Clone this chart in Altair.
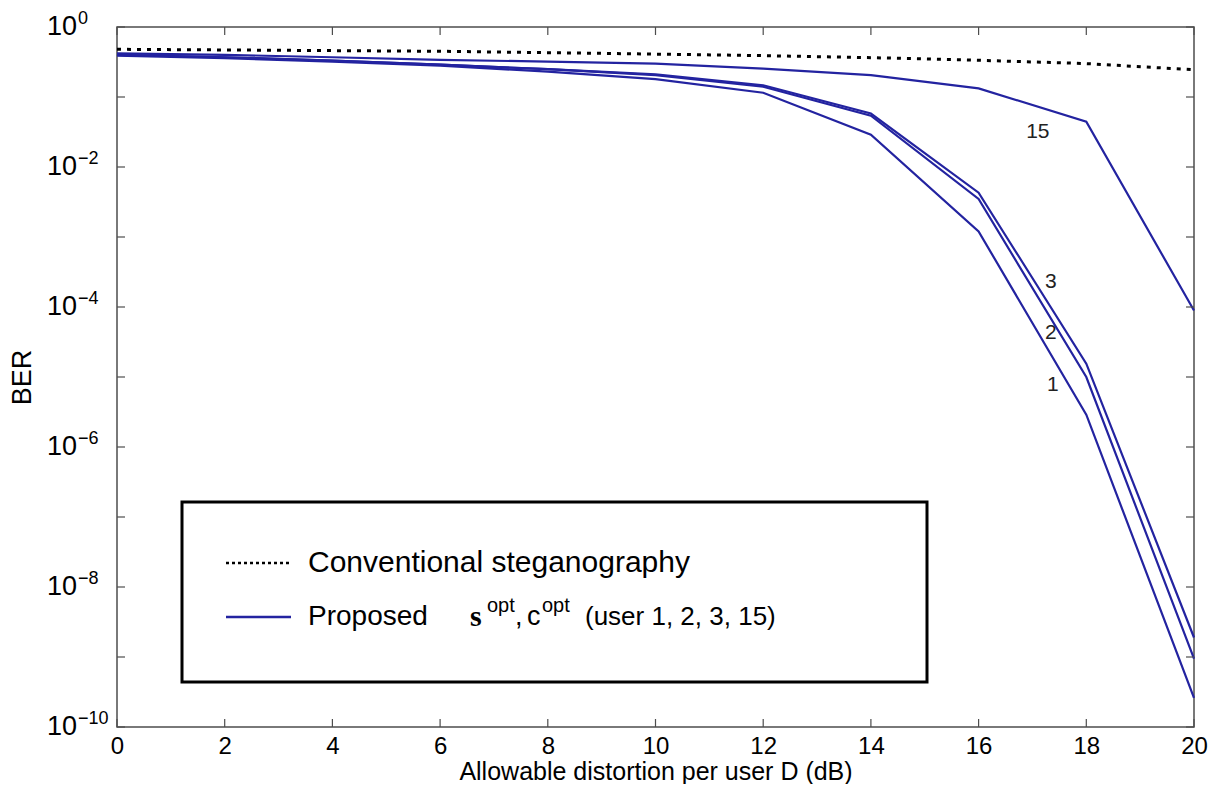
import altair as alt
import pandas as pd

# ---------------- data ----------------
D = [0, 2, 4, 6, 8, 10, 12, 14, 16, 18, 20]
conventional = [0.48, 0.47, 0.46, 0.45, 0.43, 0.41, 0.39, 0.365, 0.335, 0.30, 0.245]
user15 = [0.42, 0.40, 0.37, 0.34, 0.32, 0.30, 0.255, 0.205, 0.133, 0.0444, 8.9e-5]
user3 = [0.40, 0.37, 0.33, 0.29, 0.25, 0.21, 0.147, 0.058, 0.0043, 1.55e-5, 1.9e-9]
user2 = [0.40, 0.37, 0.33, 0.29, 0.25, 0.205, 0.14, 0.054, 0.0035, 1.0e-5, 9.5e-10]
user1 = [0.39, 0.36, 0.32, 0.28, 0.23, 0.18, 0.115, 0.029, 0.0012, 2.9e-6, 2.6e-10]

curve_label_text = ["15", "3", "2", "1"]
curve_label_D = [17.10, 17.34, 17.34, 17.38]
curve_label_BER = [0.0313, 2.25e-4, 4.2e-5, 7.6e-6]

x_ticks = [0, 2, 4, 6, 8, 10, 12, 14, 16, 18, 20]
y_decades = [0, -1, -2, -3, -4, -5, -6, -7, -8, -9, -10]
y_label_exps = [0, -2, -4, -6, -8, -10]

x_title = "Allowable distortion per user D (dB)"
y_title = "BER"
legend_conv = "Conventional steganography"
legend_prop = "Proposed"

# ---------------- tables ----------------
rows = []
for name, vals in [("1", user1), ("2", user2), ("3", user3), ("15", user15)]:
    for d, v in zip(D, vals):
        rows.append({"user": name, "D": d, "BER": v})
prop_df = pd.DataFrame(rows)
conv_df = pd.DataFrame({"D": D, "BER": conventional})
lab_df = pd.DataFrame({"D": curve_label_D, "BER": curve_label_BER, "t": curve_label_text})
xt_df = pd.DataFrame({"D": x_ticks})
yt_df = pd.DataFrame({"BER": [10.0 ** e for e in y_decades]})
yl_df = pd.DataFrame({
    "BER": [10.0 ** e for e in y_label_exps],
    "base": ["10"] * len(y_label_exps),
    "exp": [("\u2212" + str(-e)) if e < 0 else "0" for e in y_label_exps],
})
one = pd.DataFrame({"a": [0]})

W, H = 1077, 700
FONT = "Liberation Sans"
BLUE = "#2323a0"

xs = alt.Scale(domain=[0, 20], nice=False, zero=False)
ys = alt.Scale(type="log", domain=[1e-10, 1], nice=False)

x_axis = alt.Axis(values=x_ticks, ticks=False, domain=False, grid=False, labelFlush=False,
                  labelFontSize=24, labelFont=FONT, labelColor="black", labelPadding=7,
                  title=x_title, titleFont=FONT, titleFontSize=25, titleFontWeight="normal",
                  titleColor="black", titlePadding=1)
y_axis = alt.Axis(labels=False, ticks=False, domain=False, grid=False,
                  title=y_title, titleFont=FONT, titleFontSize=27, titleFontWeight="normal",
                  titleColor="black", titlePadding=81)

X = alt.X("D:Q", scale=xs, axis=x_axis)
Y = alt.Y("BER:Q", scale=ys, axis=y_axis)

conv_line = alt.Chart(conv_df).mark_line(color="black", strokeWidth=3, strokeDash=[4, 6]).encode(
    x=X, y=Y)

prop_lines = alt.Chart(prop_df).mark_line(color=BLUE, strokeWidth=2.2).encode(
    x=X, y=Y, detail="user:N")

curve_labels = alt.Chart(lab_df).mark_text(font=FONT, fontSize=21, color="#222222",
                                           align="center", baseline="middle").encode(
    x=X, y=Y, text="t:N")

TICK = "#4d4d4d"
bottom_ticks = alt.Chart(xt_df).mark_rule(color=TICK, strokeWidth=1.2).encode(
    x=X, y=alt.value(H), y2=alt.value(H - 8))
top_ticks = alt.Chart(xt_df).mark_rule(color=TICK, strokeWidth=1.2).encode(
    x=X, y=alt.value(0), y2=alt.value(8))
left_ticks = alt.Chart(yt_df).mark_rule(color=TICK, strokeWidth=1.2).encode(
    y=Y, x=alt.value(0), x2=alt.value(8))
right_ticks = alt.Chart(yt_df).mark_rule(color=TICK, strokeWidth=1.2).encode(
    y=Y, x=alt.value(W), x2=alt.value(W - 8))

ylab_base = alt.Chart(yl_df).mark_text(font=FONT, fontSize=27, color="black",
                                       align="right", baseline="middle").encode(
    y=Y, x=alt.value(-40), text="base:N")
ylab_exp = alt.Chart(yl_df).mark_text(font=FONT, fontSize=18, color="black",
                                      align="left", baseline="middle", dy=-8).encode(
    y=Y, x=alt.value(-39), text="exp:N")

# ---------------- legend box ----------------
leg_box = alt.Chart(one).mark_rect(fill="white", stroke="black", strokeWidth=3).encode(
    x=alt.value(65), x2=alt.value(810), y=alt.value(475), y2=alt.value(655))
leg_conv_line = alt.Chart(one).mark_rule(color="black", strokeWidth=2.5, strokeDash=[3, 3]).encode(
    x=alt.value(109), x2=alt.value(174), y=alt.value(536))
leg_prop_line = alt.Chart(one).mark_rule(color=BLUE, strokeWidth=2.5).encode(
    x=alt.value(109), x2=alt.value(174), y=alt.value(590))

def txt(s, x, y, size=27, font=FONT, weight="normal", dy=0):
    return alt.Chart(one).mark_text(font=font, fontSize=size, fontWeight=weight, color="black",
                                    align="left", baseline="middle", dy=dy).encode(
        x=alt.value(x), y=alt.value(y), text=alt.value(s))

leg_texts = [
    txt(legend_conv, 191, 536, size=30),
    txt(legend_prop, 191, 590, size=28),
    txt("s", 353, 590, size=30, font="Liberation Serif", weight="bold"),
    txt("opt", 370, 590, size=20, dy=-11),
    txt(",", 398, 590),
    txt("c", 410, 590),
    txt("opt", 425, 590, size=20, dy=-11),
    txt("(user 1, 2, 3, 15)", 468, 590, size=26),
]

chart = alt.layer(
    conv_line, prop_lines, curve_labels,
    bottom_ticks, top_ticks, left_ticks, right_ticks,
    ylab_base, ylab_exp,
    leg_box, leg_conv_line, leg_prop_line, *leg_texts,
).properties(
    width=W, height=H,
    autosize=alt.AutoSizeParams(type="none"),
    padding={"left": 109, "top": 19, "right": 20, "bottom": 57},
    background="white",
).configure_view(stroke="#4d4d4d", strokeWidth=1.5)

chart.save("out.html", embed_options={"renderer": "svg", "actions": False})
